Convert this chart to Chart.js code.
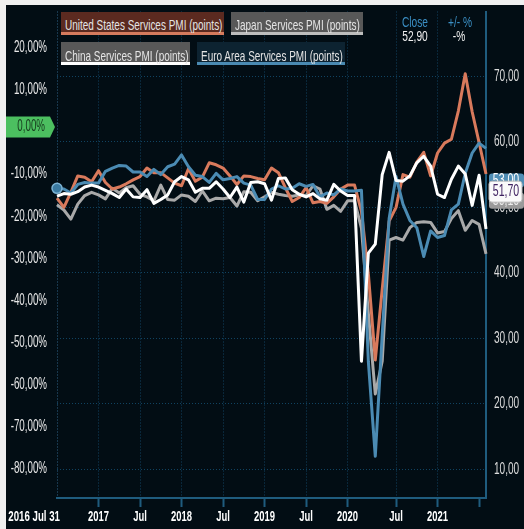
<!DOCTYPE html>
<html>
<head>
<meta charset="utf-8">
<script src="https://cdn.jsdelivr.net/npm/chart.js@4.4.0/dist/chart.umd.min.js"></script>
<style>
  body { margin: 0; background: #f0f0f0; }
  #wrap { position: absolute; left: 6px; top: 5px; width: 518px; height: 524px; background: #020d14; overflow: hidden; }
  #c { position: absolute; left: 0; top: 0; }
  .lg { position: absolute; height: 23px; box-sizing: border-box; border-bottom: 3px solid; }
  .lg span, .hd { position: absolute; white-space: nowrap; font: 15px 'Liberation Sans', Arial, sans-serif; line-height: 15px; }
  .lg span { left: 4px; top: 5px; color: #e4e4e4; transform: scaleX(0.665); transform-origin: 0 0; }
  .hd { transform: translateX(-50%) scaleX(0.68); }
</style>
</head>
<body>
<div id="wrap">
  <canvas id="c" width="518" height="524"></canvas>
  <div class="lg" style="left:55px;top:7px;width:163px;background:#5b2a20;border-color:#d57a5d"><span>United States Services PMI (points)</span></div>
  <div class="lg" style="left:225px;top:7px;width:132px;background:#585858;border-color:#bdbdbd"><span>Japan Services PMI (points)</span></div>
  <div class="lg" style="left:55px;top:37px;width:129px;background:#585858;border-color:#ffffff"><span style="top:6px">China Services PMI (points)</span></div>
  <div class="lg" style="left:191px;top:37px;width:148px;background:#0d2331;border-color:#4a8ab2"><span style="top:6px">Euro Area Services PMI (points)</span></div>
  <div class="hd" style="left:409px;top:9px;color:#3b8fc4">Close</div>
  <div class="hd" style="left:409px;top:23px;color:#f0f0f0">52,90</div>
  <div class="hd" style="left:454px;top:9px;color:#3b8fc4">+/- %</div>
  <div class="hd" style="left:453px;top:23px;color:#f0f0f0">-%</div>
</div>
<script>
// monthly readings, Jul 2016 .. Aug 2021 (the feed has a doubled Jan 2020 row)
const months = [
  '2016-07', '2016-08', '2016-09', '2016-10', '2016-11', '2016-12',
  '2017-01', '2017-02', '2017-03', '2017-04', '2017-05', '2017-06', '2017-07', '2017-08', '2017-09', '2017-10', '2017-11', '2017-12',
  '2018-01', '2018-02', '2018-03', '2018-04', '2018-05', '2018-06', '2018-07', '2018-08', '2018-09', '2018-10', '2018-11', '2018-12',
  '2019-01', '2019-02', '2019-03', '2019-04', '2019-05', '2019-06', '2019-07', '2019-08', '2019-09', '2019-10', '2019-11', '2019-12',
  '2020-01', '2020-01b', '2020-02', '2020-03', '2020-04', '2020-05', '2020-06', '2020-07', '2020-08', '2020-09', '2020-10', '2020-11', '2020-12',
  '2021-01', '2021-02', '2021-03', '2021-04', '2021-05', '2021-06', '2021-07', '2021-08'
];

const usPmi = [
  51.4, 50.0, 52.3, 54.8, 54.6, 53.9,
  55.6, 53.8, 52.8, 53.1, 53.6, 54.2, 54.7, 56.0, 55.3, 55.3, 54.5, 53.7,
  53.3, 55.9, 54.0, 54.6, 56.8, 56.5, 56.0, 54.8, 53.5, 54.8, 54.7, 54.4,
  54.2, 56.0, 55.3, 53.0, 50.9, 51.5, 53.0, 50.7, 50.9, 50.6, 51.6, 52.8,
  53.4, 53.4, 49.4, 39.8, 26.7, 37.5, 47.9, 50.0, 55.0, 54.6, 56.9, 58.4, 54.8,
  58.3, 59.8, 60.4, 64.7, 70.4, 64.6, 59.9, 55.1
];
const japanPmi = [
  50.4, 49.6, 48.2, 50.5, 51.8, 52.3,
  51.9, 51.3, 52.9, 52.2, 53.0, 53.3, 52.0, 51.6, 51.0, 53.4, 51.2, 51.1,
  51.9, 51.7, 50.9, 52.5, 51.0, 51.4, 51.3, 51.5, 50.2, 52.4, 52.3, 51.0,
  51.6, 52.3, 52.0, 51.8, 51.7, 51.9, 51.8, 53.3, 52.8, 49.7, 50.3, 49.4,
  51.0, 51.0, 46.8, 33.8, 21.5, 26.5, 45.0, 45.4, 45.0, 46.9, 47.7, 47.8, 47.7,
  46.1, 46.3, 48.3, 49.5, 46.5, 48.0, 47.4, 42.9
];
const chinaPmi = [
  51.7, 52.1, 52.0, 52.4, 53.1, 53.4,
  53.1, 52.6, 52.1, 51.5, 52.8, 51.6, 51.5, 52.7, 50.6, 51.2, 51.9, 53.9,
  54.7, 54.2, 52.3, 52.9, 52.9, 53.9, 52.8, 51.5, 53.1, 50.8, 53.8, 53.9,
  53.6, 51.1, 54.4, 54.5, 52.7, 52.0, 51.6, 52.1, 51.3, 51.1, 53.5, 52.5,
  51.8, 51.8, 26.5, 43.0, 44.4, 55.0, 58.4, 54.1, 54.0, 54.8, 56.8, 57.8, 56.3,
  52.0, 51.5, 54.3, 56.3, 55.1, 50.3, 54.9, 46.7
];
const euroPmi = [
  52.9, 52.8, 52.2, 53.5, 53.8, 53.7,
  53.7, 55.5, 56.0, 56.4, 56.3, 55.4, 55.4, 54.7, 55.8, 55.0, 56.2, 56.6,
  58.0, 56.2, 54.9, 54.7, 53.8, 55.2, 54.2, 54.4, 54.7, 53.7, 53.4, 51.2,
  51.2, 52.8, 53.3, 52.8, 52.9, 53.6, 53.2, 53.5, 51.6, 52.2, 51.9, 52.8,
  52.5, 52.5, 52.6, 26.4, 12.0, 30.5, 48.3, 54.7, 50.5, 48.0, 46.9, 42.5, 46.4,
  45.4, 45.7, 49.6, 50.5, 55.2, 58.3, 59.8, 59.0
];

// axis ticks
const xTickIdx = [0, 6, 12, 18, 24, 30, 36, 42, 49, 55, 61];
const xTickText = ['2016 Jul 31', '2017', 'Jul', '2018', 'Jul', '2019', 'Jul', '2020', 'Jul', '2021', ''];
const rightTicks = [10, 20, 30, 40, 50, 60, 70];
const leftTicks = [20, 10, 0, -10, -20, -30, -40, -50, -60, -70, -80];

// last-value tags on the right edge
const tagValues = [54.1, 51.0, 52.4];
const tagText = ['53,00', '50,10', '51,70'];

const FONT = "'Liberation Sans', Arial, sans-serif";
const GRID = '#104361';
const AXIS = '#1f5c7e';

function comma(v) { return v.toFixed(2).replace('.', ','); }

const labelPlugin = {
  id: 'narrowLabels',
  afterDraw(chart) {
    const ctx = chart.ctx;
    const sx = chart.scales.x, sy = chart.scales.y, sl = chart.scales.yL;
    const put = (s, x, y, align, font, color, k) => {
      ctx.save();
      ctx.translate(x, y);
      ctx.scale(k, 1);
      ctx.font = font;
      ctx.fillStyle = color;
      ctx.textAlign = align;
      ctx.textBaseline = 'middle';
      ctx.fillText(s, 0, 0);
      ctx.restore();
    };

    // left % axis
    leftTicks.forEach(v => {
      if (v === 0) return;
      put(comma(v) + '%', 41, sl.getPixelForValue(v), 'right', '16px ' + FONT, '#e8e8e8', 0.61);
    });
    const y0 = sl.getPixelForValue(0) - 5;
    ctx.save();
    ctx.fillStyle = '#4cbf60';
    ctx.beginPath();
    ctx.moveTo(0, y0 - 10.5);
    ctx.lineTo(44, y0 - 10.5);
    ctx.lineTo(49, y0);
    ctx.lineTo(44, y0 + 10.5);
    ctx.lineTo(0, y0 + 10.5);
    ctx.closePath();
    ctx.fill();
    ctx.restore();
    put('0,00%', 39, y0, 'right', '16px ' + FONT, '#163a1d', 0.61);

    // right value axis
    rightTicks.forEach(v => {
      put(comma(v), 488, sy.getPixelForValue(v), 'left', '16px ' + FONT, '#dcdcdc', 0.63);
    });

    // x axis
    xTickIdx.forEach((idx, i) => {
      const px = sx.getPixelForValue(idx);
      if (i === 0) put(xTickText[i], 54, 511.7, 'right', 'bold 15px ' + FONT, '#ffffff', 0.645);
      else if (xTickText[i]) put(xTickText[i], px, 511.7, 'center', 'bold 15px ' + FONT, '#ffffff', 0.63);
    });

    // value tags
    const tags = [
      { fill: '#4f8db5', stroke: null, h: 14, w: 35, color: '#ffffff' },
      { fill: '#9a9a9a', stroke: null, h: 16, w: 35, color: '#eeeeee' },
      { fill: '#fafafa', stroke: '#bdbdbd', h: 21, w: 33, color: '#3e2160' }
    ];
    tags.forEach((t, i) => {
      const ty = sy.getPixelForValue(tagValues[i]);
      ctx.save();
      ctx.fillStyle = t.fill;
      ctx.beginPath();
      ctx.roundRect(483, ty - t.h / 2, t.w, t.h, 3);
      ctx.fill();
      if (t.stroke) { ctx.strokeStyle = t.stroke; ctx.lineWidth = 1; ctx.stroke(); }
      ctx.restore();
      put(tagText[i], 500, ty, 'center', '16px ' + FONT, t.color, 0.66);
    });
  }
};

new Chart(document.getElementById('c'), {
  type: 'line',
  data: {
    labels: months,
    datasets: [
      { label: 'United States Services PMI (points)', data: usPmi, borderColor: '#d97a5c', order: 2 },
      { label: 'Japan Services PMI (points)', data: japanPmi, borderColor: '#a9a9a9', order: 3 },
      { label: 'China Services PMI (points)', data: chinaPmi, borderColor: '#ffffff', order: 0 },
      {
        label: 'Euro Area Services PMI (points)', data: euroPmi, borderColor: '#4b8bb3', order: 1,
        pointRadius: c => c.dataIndex === 0 ? 5 : 0,
        pointBackgroundColor: '#3b7aa1', pointBorderColor: '#7db3d4', pointBorderWidth: 1.5
      }
    ]
  },
  options: {
    responsive: false,
    animation: false,
    layout: { padding: 0 },
    clip: false,
    elements: {
      line: { borderWidth: 3, tension: 0, borderJoinStyle: 'round' },
      point: { radius: 0 }
    },
    plugins: { legend: { display: false }, tooltip: { enabled: false } },
    scales: {
      x: {
        type: 'category',
        offset: false,
        afterBuildTicks: s => { s.ticks = xTickIdx.map(v => ({ value: v })); },
        afterFit: s => { s.height = 31; },
        ticks: { display: false, autoSkip: false },
        grid: {
          color: c => c.tick && c.tick.value === 0 ? '#2f6386' : (c.tick && c.tick.value === 61 ? 'transparent' : GRID),
          lineWidth: 1,
          tickLength: 9,
          tickWidth: 2,
          tickColor: c => c.tick && c.tick.value === 0 ? 'transparent' : AXIS,
          tickBorderDash: []
        },
        border: { display: true, color: AXIS, width: 2, dash: [1, 2] }
      },
      y: {
        position: 'right',
        min: 5.63,
        max: 79.9,
        afterBuildTicks: s => { s.ticks = rightTicks.map(v => ({ value: v })); },
        afterFit: s => { s.width = 38; },
        ticks: { display: false },
        grid: { color: GRID, lineWidth: 1, drawTicks: false },
        border: { display: true, color: AXIS, width: 2, dash: [1, 2] }
      },
      yL: {
        position: 'left',
        min: -86.96,
        max: 28.6,
        afterBuildTicks: s => { s.ticks = leftTicks.map(v => ({ value: v })); },
        afterFit: s => { s.width = 51; },
        ticks: { display: false },
        grid: { display: false, drawTicks: false },
        border: { display: false }
      }
    }
  },
  plugins: [labelPlugin]
});
</script>
</body>
</html>
